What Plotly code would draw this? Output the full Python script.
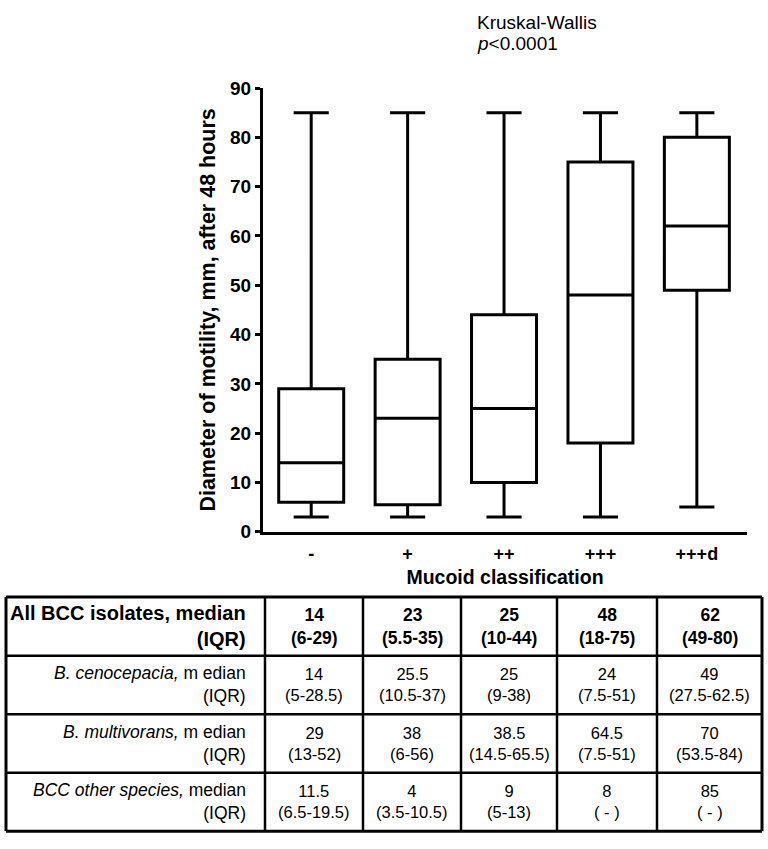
import plotly.graph_objects as go

# ---------------- data ----------------
categories = ["-", "+", "++", "+++", "+++d"]
lower_whisker = [3, 3, 3, 3, 5]
q1_values = [6, 5.5, 10, 18, 49]
median_values = [14, 23, 25, 48, 62]
q3_values = [29, 35, 44, 75, 80]
upper_whisker = [85, 85, 85, 85, 85]

y_ticks = [0, 10, 20, 30, 40, 50, 60, 70, 80, 90]

row_labels = [
    "<b>All BCC isolates, median<br>(IQR)</b>",
    "<i>B. cenocepacia,</i> m edian<br>(IQR)",
    "<i>B. multivorans,</i> m edian<br>(IQR)",
    "<i>BCC other species,</i> median<br>(IQR)",
]
all_median = ["14", "23", "25", "48", "62"]
all_iqr = ["6-29", "5.5-35", "10-44", "18-75", "49-80"]
ceno_median = ["14", "25.5", "25", "24", "49"]
ceno_iqr = ["5-28.5", "10.5-37", "9-38", "7.5-51", "27.5-62.5"]
multi_median = ["29", "38", "38.5", "64.5", "70"]
multi_iqr = ["13-52", "6-56", "14.5-65.5", "7.5-51", "53.5-84"]
other_median = ["11.5", "4", "9", "8", "85"]
other_iqr = ["6.5-19.5", "3.5-10.5", "5-13", " - ", " - "]

# ---------------- layout constants ----------------
W, H = 768, 849
FONT = "Liberation Sans, Arial, sans-serif"
plot_left, plot_right = 263, 747
plot_top, plot_bottom = 80, 535
table_left, table_top = 6, 602
col_widths = [259, 98, 98, 96, 100, 105]
row_height = 60

fig = go.Figure()
fig.add_trace(go.Box(
    x=categories,
    q1=q1_values, median=median_values, q3=q3_values,
    lowerfence=lower_whisker, upperfence=upper_whisker,
    width=0.674, whiskerwidth=0.54,
    line=dict(color="black", width=3),
    fillcolor="white",
    boxpoints=False,
    showlegend=False,
    hoverinfo="skip",
))

layout_shapes = []
annotations = []

# table grid on its own (pixel-scaled) axes
edges_x = [table_left]
for w in col_widths:
    edges_x.append(edges_x[-1] + w)
n_rows = 4
edges_y = [table_top + i * row_height for i in range(n_rows + 1)]

for i, ex in enumerate(edges_x):
    layout_shapes.append(dict(type="line", xref="x2", yref="y2",
                              x0=ex, x1=ex, y0=edges_y[0], y1=edges_y[-1],
                              line=dict(color="black", width=3 if i in (0, len(edges_x) - 1) else 2.5)))
for i, ey in enumerate(edges_y):
    layout_shapes.append(dict(type="line", xref="x2", yref="y2",
                              x0=edges_x[0], x1=edges_x[-1], y0=ey, y1=ey,
                              line=dict(color="black", width=3 if i in (0, len(edges_y) - 1) else 2.5)))

rows = [(all_median, all_iqr), (ceno_median, ceno_iqr),
        (multi_median, multi_iqr), (other_median, other_iqr)]
for r, (meds, iqrs) in enumerate(rows):
    yc = (edges_y[r] + edges_y[r + 1]) / 2
    annotations.append(dict(xref="x2", yref="y2", x=edges_x[1] - 17, y=yc,
                            text=row_labels[r], showarrow=False,
                            xanchor="right", yanchor="middle", align="right",
                            font=dict(family=FONT, size=20 if r == 0 else 17.5, color="black")))
    for c in range(5):
        xc = (edges_x[c + 1] + edges_x[c + 2]) / 2
        if r == 0:
            txt = f"<b>{meds[c]}<br>({iqrs[c]})</b>"
        else:
            txt = f"{meds[c]}<br>({iqrs[c]})"
        annotations.append(dict(xref="x2", yref="y2", x=xc, y=yc, text=txt,
                                showarrow=False, xanchor="center", yanchor="middle",
                                align="center",
                                font=dict(family=FONT, size=17.5 if r == 0 else 16.5, color="black")))

# statistics note
annotations.append(dict(xref="paper", yref="paper", x=475 / W, y=1 - 13 / H,
                        text="Kruskal-Wallis", showarrow=False,
                        xanchor="left", yanchor="middle",
                        font=dict(family=FONT, size=19, color="black")))
annotations.append(dict(xref="paper", yref="paper", x=475 / W, y=1 - 34 / H,
                        text="<i>p</i>&lt;0.0001", showarrow=False,
                        xanchor="left", yanchor="middle",
                        font=dict(family=FONT, size=19, color="black")))

fig.update_layout(
    width=W, height=H,
    margin=dict(l=0, r=0, t=0, b=0),
    paper_bgcolor="white", plot_bgcolor="rgba(0,0,0,0)",
    font=dict(family=FONT, color="black"),
    xaxis=dict(
        domain=[plot_left / W, plot_right / W],
        range=[-0.5, 4.52],
        showline=True, linecolor="black", linewidth=3,
        ticks="", showgrid=False, zeroline=False,
        ticklabelstandoff=4,
        tickfont=dict(family=FONT, size=18, color="black", weight="bold"),
        title=dict(text="<b>Mucoid classification</b>", standoff=7,
                   font=dict(family=FONT, size=19.5, color="black")),
        fixedrange=True,
    ),
    yaxis=dict(
        domain=[1 - plot_bottom / H, 1 - plot_top / H],
        range=[0, 90],
        tickvals=y_ticks,
        showline=True, linecolor="black", linewidth=3,
        ticks="outside", ticklen=5, tickwidth=3, tickcolor="black",
        showgrid=False, zeroline=False,
        tickfont=dict(family=FONT, size=19, color="black", weight="bold"),
        title=dict(text="<b>Diameter of motility, mm, after 48 hours</b>", standoff=9,
                   font=dict(family=FONT, size=21.5, color="black")),
        fixedrange=True,
    ),
    xaxis2=dict(domain=[0, 1], range=[0, W], visible=False, anchor="y2", fixedrange=True),
    yaxis2=dict(domain=[0, 1], range=[H, 0], visible=False, anchor="x2", fixedrange=True),
    shapes=layout_shapes,
    annotations=annotations,
)

fig.write_html(
    "out.html",
    config={"displayModeBar": False},
    post_script="document.body.style.margin='0';document.body.style.overflow='hidden';",
)
